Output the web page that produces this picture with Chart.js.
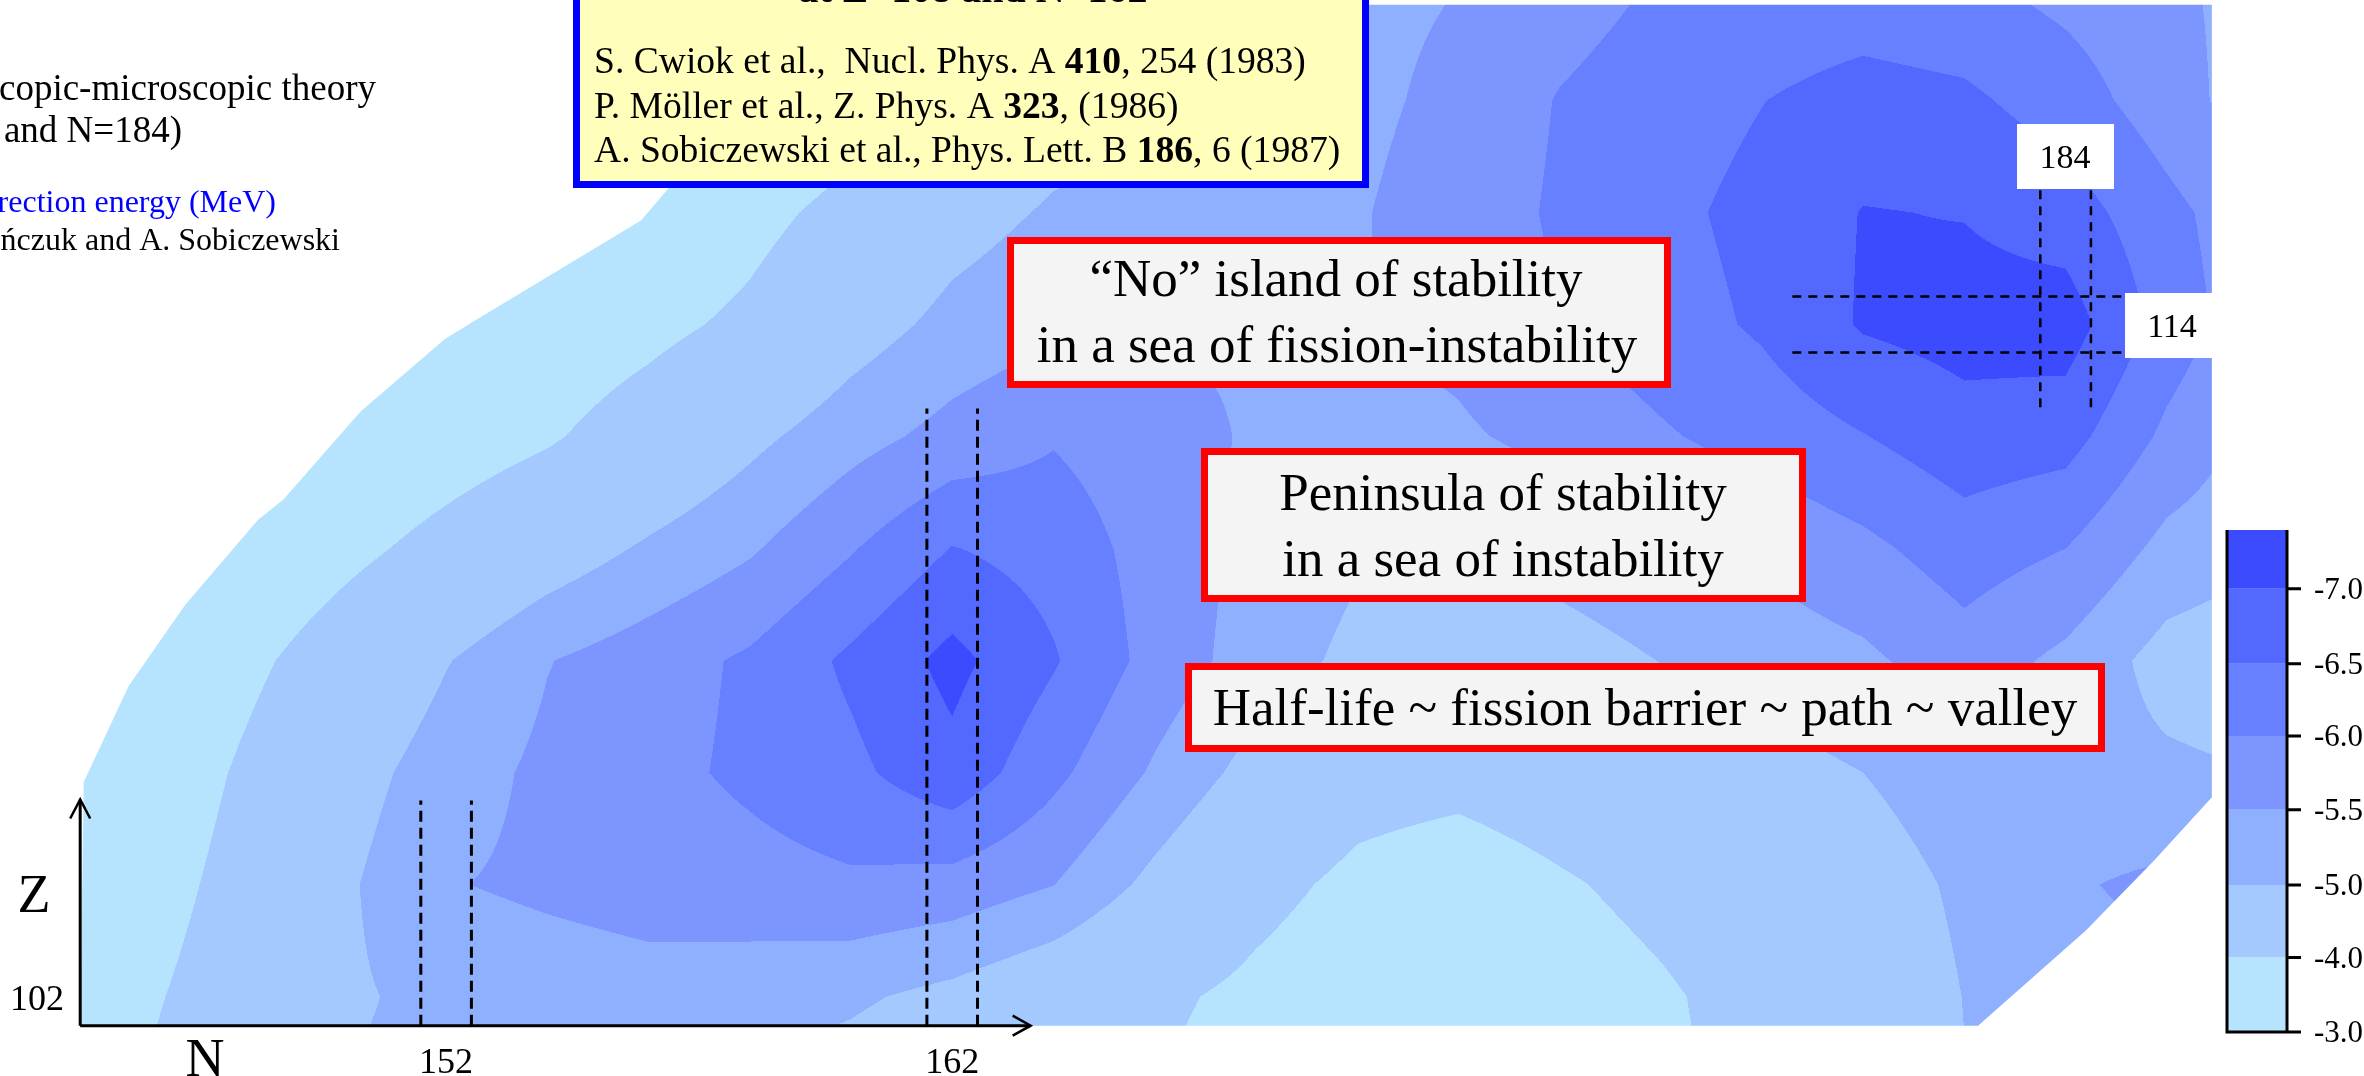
<!DOCTYPE html>
<html>
<head>
<meta charset="utf-8">
<script src="https://cdn.jsdelivr.net/npm/chart.js@4.4.1/dist/chart.umd.min.js"></script>
<style>
  html, body { margin: 0; padding: 0; background: #fff; }
  #wrap { width: 2364px; height: 1076px; position: relative; }
</style>
</head>
<body>
<div id="wrap"><canvas id="shellChart"></canvas></div>
<script>
// grid of the shell correction energy (MeV), one row per proton number Z
const neutronN = [144, 146, 148, 150, 152, 154, 156, 158, 160, 162, 164, 166, 168, 170, 172, 174, 176, 178, 180, 182, 184, 186, 188];
const protonZ = [100, 102, 104, 106, 108, 110, 112, 114, 116, 118, 120];

const shellZ100 = [-3.58, -4.06, -4.54, -5.02, -5.17, -5.30, -5.11, -4.93, -4.68, -4.43, -4.19, -3.94, -3.71, -3.47, -3.35, -3.61, -3.86, -4.17, -4.57, -4.98, -5.20, -5.30, -5.30];
const shellZ102 = [-3.40, -3.88, -4.41, -4.93, -5.13, -5.22, -5.30, -5.20, -5.08, -4.85, -4.50, -4.14, -3.83, -3.54, -3.30, -3.63, -3.91, -4.26, -4.64, -5.01, -5.30, -5.45, -5.40];
const shellZ104 = [-3.40, -3.65, -4.27, -4.92, -5.47, -5.60, -5.71, -5.81, -5.92, -5.81, -5.51, -4.85, -4.23, -3.83, -3.62, -3.92, -4.20, -4.49, -4.77, -5.08, -5.45, -5.60, -5.20];
const shellZ106 = [-3.50, -3.45, -4.10, -4.75, -5.27, -5.61, -5.85, -6.10, -6.38, -6.85, -6.13, -5.43, -4.80, -4.30, -4.22, -4.41, -4.61, -4.80, -5.00, -5.25, -5.20, -5.10, -5.00];
const shellZ108 = [-3.30, -3.25, -3.82, -4.39, -4.97, -5.48, -5.77, -6.08, -6.60, -7.15, -6.55, -5.82, -5.26, -4.87, -4.65, -4.78, -5.01, -5.21, -5.40, -5.78, -5.38, -4.80, -4.60];
const shellZ110 = [-3.00, -3.30, -3.38, -3.81, -4.24, -4.67, -5.08, -5.44, -5.96, -6.52, -6.29, -5.80, -5.37, -5.07, -4.98, -5.19, -5.38, -5.60, -5.88, -6.25, -6.00, -5.35, -5.10];
const shellZ112 = [-2.80, -3.00, -3.20, -3.32, -3.62, -3.92, -4.37, -4.86, -5.31, -5.67, -5.96, -5.70, -5.44, -5.30, -5.43, -5.65, -5.94, -6.21, -6.48, -6.80, -6.70, -5.89, -5.30];
const shellZ114 = [-2.60, -2.80, -3.00, -3.10, -3.25, -3.52, -3.80, -4.16, -4.73, -5.16, -5.40, -5.43, -5.45, -5.48, -5.64, -6.00, -6.28, -6.57, -7.05, -7.20, -7.25, -6.30, -5.60];
const shellZ116 = [-2.40, -2.60, -2.80, -2.90, -3.00, -3.10, -3.30, -3.76, -4.25, -4.76, -5.07, -5.20, -5.33, -5.46, -5.73, -6.07, -6.37, -6.65, -7.02, -6.98, -6.75, -6.15, -5.60];
const shellZ118 = [-2.20, -2.40, -2.60, -2.70, -2.80, -2.90, -3.00, -3.20, -3.60, -4.17, -4.70, -5.07, -5.23, -5.39, -5.62, -6.03, -6.26, -6.49, -6.70, -6.60, -6.26, -5.72, -5.20];
const shellZ120 = [-2.00, -2.20, -2.40, -2.50, -2.60, -2.70, -2.80, -3.00, -3.40, -3.90, -4.50, -5.00, -5.20, -5.38, -5.50, -5.78, -6.05, -6.15, -6.20, -6.10, -5.85, -5.60, -5.30];
const shellRows = [shellZ100, shellZ102, shellZ104, shellZ106, shellZ108, shellZ110, shellZ112, shellZ114, shellZ116, shellZ118, shellZ120];

// contour levels (colour bar ticks) and band colours, deepest first
const levelValues = [-7.0, -6.5, -6.0, -5.5, -5.0, -4.0, -3.0];
const levelLabels = ['-7.0', '-6.5', '-6.0', '-5.5', '-5.0', '-4.0', '-3.0'];
const bandColors = ['#3d4bff', '#5268ff', '#6780ff', '#7d96ff', '#8eb0ff', '#a3c9ff', '#b6e4fe'];

// outline of the calculated region (N, Z)
const edgeN = [144.77, 144.84, 145.73, 146.85, 148.28, 148.79, 150.31, 151.97, 152.53, 155.85, 156.40, 161.76, 186.89, 186.89, 185.74, 184.40, 182.27];
const edgeZ = [101.48, 105.83, 107.55, 109.00, 110.51, 110.88, 112.45, 113.74, 114.05, 115.86, 116.44, 119.71, 119.71, 105.56, 104.42, 103.18, 101.48];

// axis ticks
const tickN = [152, 162];
const tickZ = [102];
const serif = "'Liberation Serif', 'Times New Roman', serif";

function energyAt(n, z) {
  const dn = neutronN[1] - neutronN[0], dz = protonZ[1] - protonZ[0];
  let fi = (n - neutronN[0]) / dn, fj = (z - protonZ[0]) / dz;
  fi = Math.max(0, Math.min(neutronN.length - 1.0001, fi));
  fj = Math.max(0, Math.min(protonZ.length - 1.0001, fj));
  const i = Math.floor(fi), j = Math.floor(fj), u = fi - i, t = fj - j;
  const r0 = shellRows[j], r1 = shellRows[j + 1];
  return (r0[i] * (1 - u) + r0[i + 1] * u) * (1 - t) + (r1[i] * (1 - u) + r1[i + 1] * u) * t;
}

function bandOf(v) {
  for (let k = 0; k < 6; k++) {
    if (v < levelValues[k]) return k;
  }
  return 6;
}

const rgbBands = bandColors.map(h => [parseInt(h.slice(1, 3), 16), parseInt(h.slice(3, 5), 16), parseInt(h.slice(5, 7), 16)]);

const contourPlugin = {
  id: 'contour',
  beforeDatasetsDraw(chart) {
    const { ctx, chartArea, scales: { x, y } } = chart;
    const w = Math.round(chartArea.right - chartArea.left);
    const h = Math.round(chartArea.bottom - chartArea.top);
    const off = document.createElement('canvas');
    off.width = w; off.height = h;
    const octx = off.getContext('2d');
    const img = octx.createImageData(w, h);
    const cols = new Float64Array(w), rows = new Float64Array(h);
    for (let px = 0; px < w; px++) cols[px] = x.getValueForPixel(chartArea.left + px + 0.5);
    for (let py = 0; py < h; py++) rows[py] = y.getValueForPixel(chartArea.top + py + 0.5);
    const d = img.data;
    for (let py = 0; py < h; py++) {
      for (let px = 0; px < w; px++) {
        const c = rgbBands[bandOf(energyAt(cols[px], rows[py]))];
        const o = (py * w + px) * 4;
        d[o] = c[0]; d[o + 1] = c[1]; d[o + 2] = c[2]; d[o + 3] = 255;
      }
    }
    octx.putImageData(img, 0, 0);
    ctx.save();
    ctx.beginPath();
    edgeN.forEach((n, k) => {
      const px = x.getPixelForValue(n), py = y.getPixelForValue(edgeZ[k]);
      if (k === 0) ctx.moveTo(px, py); else ctx.lineTo(px, py);
    });
    ctx.closePath();
    ctx.clip();
    ctx.drawImage(off, chartArea.left, chartArea.top);
    ctx.restore();
  }
};

function dashed(ctx, x0, y0, x1, y1, width, dash) {
  ctx.save();
  ctx.strokeStyle = '#000';
  ctx.lineWidth = width;
  ctx.setLineDash(dash);
  ctx.beginPath();
  ctx.moveTo(x0, y0);
  ctx.lineTo(x1, y1);
  ctx.stroke();
  ctx.restore();
}

function box(ctx, x0, y0, x1, y1, fill, stroke, lw) {
  ctx.save();
  ctx.fillStyle = fill;
  ctx.fillRect(x0, y0, x1 - x0, y1 - y0);
  if (stroke) {
    ctx.strokeStyle = stroke;
    ctx.lineWidth = lw;
    ctx.strokeRect(x0 + lw / 2, y0 + lw / 2, x1 - x0 - lw, y1 - y0 - lw);
  }
  ctx.restore();
}

function richLine(ctx, parts, x0, yb, size) {
  let cx = x0;
  parts.forEach(p => {
    ctx.font = (p[1] ? 'bold ' : '') + size + 'px ' + serif;
    ctx.fillText(p[0], cx, yb);
    cx += ctx.measureText(p[0]).width;
  });
}

const overlayPlugin = {
  id: 'overlay',
  afterDatasetsDraw(chart) {
    const { ctx, scales: { x, y } } = chart;
    const X = v => x.getPixelForValue(v), Y = v => y.getPixelForValue(v);

    // shell closure guide lines
    dashed(ctx, X(151.5), Y(101.48), X(151.5), Y(105.5), 3, [11, 6]);
    dashed(ctx, X(152.5), Y(101.48), X(152.5), Y(105.5), 3, [11, 6]);
    dashed(ctx, X(161.5), Y(101.48), X(161.5), Y(112.5), 3, [11, 6]);
    dashed(ctx, X(162.5), Y(101.48), X(162.5), Y(112.5), 3, [11, 6]);
    dashed(ctx, X(183.5), Y(116.4), X(183.5), Y(112.5), 2.5, [9, 7]);
    dashed(ctx, X(184.5), Y(116.4), X(184.5), Y(112.5), 2.5, [9, 7]);
    dashed(ctx, X(178.6), Y(114.5), X(185.2), Y(114.5), 2.5, [9, 7]);
    dashed(ctx, X(178.6), Y(113.5), X(185.2), Y(113.5), 2.5, [9, 7]);

    // axes with arrows
    const ox = X(144.77), oy = Y(101.48), tipX = X(163.55), tipY = Y(105.52);
    ctx.save();
    ctx.strokeStyle = '#000';
    ctx.lineWidth = 3;
    ctx.beginPath();
    ctx.moveTo(ox, oy); ctx.lineTo(tipX, oy);
    ctx.moveTo(ox, oy); ctx.lineTo(ox, tipY);
    ctx.stroke();
    ctx.lineWidth = 2.5;
    ctx.beginPath();
    ctx.moveTo(tipX - 18, oy - 10); ctx.lineTo(tipX, oy); ctx.lineTo(tipX - 18, oy + 10);
    ctx.moveTo(ox - 10, tipY + 19); ctx.lineTo(ox, tipY); ctx.lineTo(ox + 10, tipY + 19);
    ctx.stroke();
    ctx.restore();

    ctx.save();
    ctx.fillStyle = '#000';
    ctx.textAlign = 'center';
    ctx.textBaseline = 'alphabetic';
    ctx.font = '36px ' + serif;
    tickN.forEach(n => ctx.fillText(String(n), X(n), 1073));
    tickZ.forEach(z => ctx.fillText(String(z), 37, Y(z) + 13));
    ctx.font = '54px ' + serif;
    ctx.fillText('N', 205, 1076);
    ctx.fillText('Z', 34, 912);
    ctx.restore();

    // 184 / 114 labels
    box(ctx, 2017, 124, 2114, 189, '#fff');
    box(ctx, 2125, 293, 2212, 358, '#fff');
    ctx.save();
    ctx.fillStyle = '#000';
    ctx.textAlign = 'center';
    ctx.font = '34px ' + serif;
    ctx.fillText('184', 2065, 168);
    ctx.fillText('114', 2172, 337);
    ctx.restore();

    // statement boxes
    box(ctx, 1007, 237, 1671, 388, '#f4f4f4', '#ff0000', 7);
    box(ctx, 1201, 448, 1806, 602, '#f4f4f4', '#ff0000', 7);
    box(ctx, 1185, 663, 2105, 752, '#f4f4f4', '#ff0000', 7);
    ctx.save();
    ctx.fillStyle = '#000';
    ctx.textAlign = 'center';
    ctx.font = '53px ' + serif;
    ctx.fillText('\u201cNo\u201d island of stability', 1336, 296);
    ctx.fillText('in a sea of fission-instability', 1337, 362);
    ctx.fillText('Peninsula of stability', 1503, 510);
    ctx.fillText('in a sea of instability', 1503, 576);
    ctx.fillText('Half-life ~ fission barrier ~ path ~ valley', 1645, 725);
    ctx.restore();

    // references box (top cut off)
    box(ctx, 573, -30, 1369, 188, '#ffffbb', '#0000ff', 7);
    ctx.save();
    ctx.fillStyle = '#000';
    ctx.textAlign = 'center';
    ctx.font = 'bold 40px ' + serif;
    ctx.fillText('at Z=108 and N=162', 973, 2);
    ctx.textAlign = 'left';
    richLine(ctx, [['S. Cwiok et al.,  Nucl. Phys. A ', 0], ['410', 1], [', 254 (1983)', 0]], 594, 73, 37.6);
    richLine(ctx, [['P. M\u00f6ller et al., Z. Phys. A ', 0], ['323', 1], [', (1986)', 0]], 594, 118, 37.6);
    richLine(ctx, [['A. Sobiczewski et al., Phys. Lett. B ', 0], ['186', 1], [', 6 (1987)', 0]], 594, 162, 37.6);
    ctx.restore();

    // caption at the left (cut by the page edge)
    ctx.save();
    ctx.textAlign = 'right';
    ctx.fillStyle = '#000';
    ctx.font = '37px ' + serif;
    ctx.fillText('Macroscopic-microscopic theory', 376, 100);
    ctx.fillText('(Z=114 and N=184)', 182, 142);
    ctx.font = '32px ' + serif;
    ctx.fillStyle = '#0000ff';
    ctx.fillText('Shell correction energy (MeV)', 276, 212);
    ctx.fillStyle = '#000';
    ctx.fillText('R. Smola\u0144czuk and A. Sobiczewski', 340, 250);
    ctx.restore();

    // colour bar
    const cbL = 2227, cbR = 2287, cbTop = 530;
    const tickY = [588.8, 663.8, 736, 809.8, 885, 957.6, 1032];
    ctx.save();
    let prev = cbTop;
    bandColors.forEach((c, k) => {
      ctx.fillStyle = c;
      ctx.fillRect(cbL, prev, cbR - cbL, tickY[k] - prev);
      prev = tickY[k];
    });
    ctx.strokeStyle = '#000';
    ctx.lineWidth = 3;
    ctx.beginPath();
    ctx.moveTo(cbL, cbTop); ctx.lineTo(cbL, 1032); ctx.lineTo(cbR, 1032); ctx.lineTo(cbR, cbTop);
    tickY.forEach(t => { ctx.moveTo(cbR, t); ctx.lineTo(cbR + 14, t); });
    ctx.stroke();
    ctx.fillStyle = '#000';
    ctx.font = '31px ' + serif;
    ctx.textAlign = 'left';
    ctx.textBaseline = 'middle';
    levelLabels.forEach((s, k) => ctx.fillText(s, 2314, tickY[k] + 2));
    ctx.restore();
  }
};

const chart = new Chart(document.getElementById('shellChart').getContext('2d'), {
  type: 'scatter',
  data: { datasets: [{ data: [], pointRadius: 0 }] },
  options: {
    responsive: true,
    maintainAspectRatio: false,
    animation: false,
    devicePixelRatio: 1,
    layout: { padding: 0 },
    plugins: { legend: { display: false }, tooltip: { enabled: false } },
    scales: {
      x: { type: 'linear', min: 143.1855, max: 189.896, display: false },
      y: { type: 'linear', min: 100.582, max: 119.7964, display: false }
    }
  },
  plugins: [contourPlugin, overlayPlugin]
});
</script>
</body>
</html>
